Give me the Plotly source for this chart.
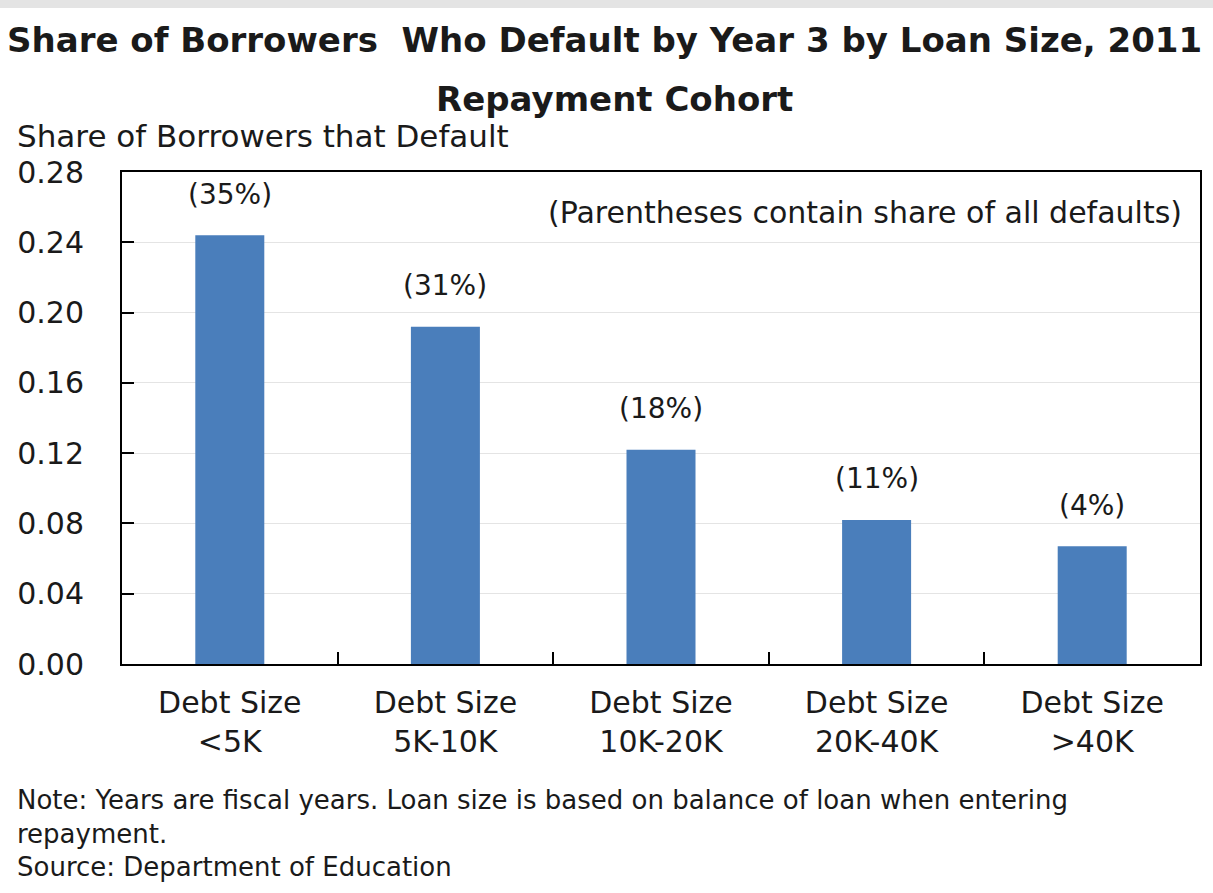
import plotly.graph_objects as go

# Data
categories = ["Debt Size<br>&lt;5K", "Debt Size<br>5K-10K", "Debt Size<br>10K-20K",
              "Debt Size<br>20K-40K", "Debt Size<br>&gt;40K"]
default_share = [0.244, 0.192, 0.122, 0.082, 0.067]
share_of_all_defaults = ["(35%)", "(31%)", "(18%)", "(11%)", "(4%)"]
y_ticks = [0.00, 0.04, 0.08, 0.12, 0.16, 0.20, 0.24, 0.28]

FONT = "'DejaVu Sans', Arial, sans-serif"
TEXT = "#1a1a1a"
BAR = "#4A7EBB"

fig = go.Figure()
fig.add_trace(go.Bar(
    x=categories,
    y=default_share,
    marker=dict(color=BAR, line=dict(width=0)),
    width=0.32,
    showlegend=False,
))

# Share-of-all-defaults labels above each bar
for cat, val, lab in zip(categories, default_share, share_of_all_defaults):
    fig.add_annotation(x=cat, y=val, text=lab, showarrow=False,
                       yshift=41, font=dict(family=FONT, size=28, color=TEXT))

fig.add_annotation(xref="paper", yref="paper", x=0.985, y=0.917,
                   xanchor="right", yanchor="middle", showarrow=False,
                   text="(Parentheses contain share of all defaults)",
                   font=dict(family=FONT, size=30, color=TEXT))

# Title (two lines)
fig.add_annotation(xref="paper", yref="paper", x=0.448, y=1.0, yanchor="middle",
                   xanchor="center", showarrow=False, yshift=132,
                   text="<b>Share of Borrowers  Who Default by Year 3 by Loan Size, 2011</b>",
                   font=dict(family=FONT, size=34, color=TEXT))
fig.add_annotation(xref="paper", yref="paper", x=0.457, y=1.0, yanchor="middle",
                   xanchor="center", showarrow=False, yshift=73,
                   text="<b>Repayment Cohort</b>",
                   font=dict(family=FONT, size=34, color=TEXT))

# Axis title
fig.add_annotation(xref="paper", yref="paper", x=-0.0993, y=1.0, yanchor="middle",
                   xanchor="left", showarrow=False, yshift=36,
                   text="Share of Borrowers that Default",
                   font=dict(family=FONT, size=31, color=TEXT))

# Notes
notes = ["Note: Years are fiscal years. Loan size is based on balance of loan when entering",
         "repayment.",
         "Source: Department of Education"]
for i, line in enumerate(notes):
    fig.add_annotation(xref="paper", yref="paper", x=-0.0993, y=0, xanchor="left",
                       yanchor="middle", showarrow=False, yshift=-136 - 33.5 * i,
                       text=line, font=dict(family=FONT, size=26, color=TEXT))

# Light strip along top edge
fig.add_shape(type="rect", xref="paper", yref="paper", x0=-0.2, x1=1.2,
              y0=1.3333, y1=1.36, fillcolor="#e4e4e4", line=dict(width=0), layer="below")

fig.update_layout(
    width=1213, height=893,
    margin=dict(l=122, r=13, t=172, b=229),
    paper_bgcolor="white", plot_bgcolor="white",
    font=dict(family=FONT, color=TEXT),
    bargap=0.68,
)
fig.update_yaxes(
    range=[0, 0.28], tickvals=y_ticks, tickformat=".2f",
    showgrid=True, gridcolor="#e4e4e4", gridwidth=1,
    showline=True, linecolor="black", linewidth=2, mirror=True,
    ticks="inside", ticklen=12, tickcolor="black", tickwidth=2,
    tickfont=dict(family=FONT, size=30, color=TEXT), ticklabelstandoff=30,
    zeroline=False,
)
fig.update_xaxes(
    showline=True, linecolor="black", linewidth=2, mirror=True,
    ticks="inside", ticklen=12, tickcolor="black", tickwidth=2,
    tickson="boundaries",
    tickfont=dict(family=FONT, size=30, color=TEXT), ticklabelstandoff=11,
)

fig.write_html("out.html")
